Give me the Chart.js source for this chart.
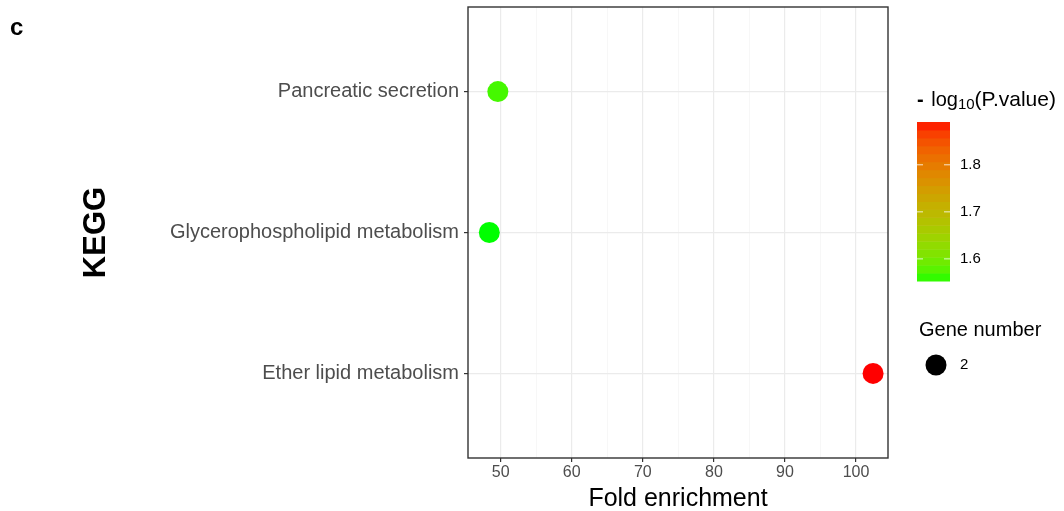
<!DOCTYPE html>
<html>
<head>
<meta charset="utf-8">
<script src="https://cdn.jsdelivr.net/npm/chart.js@4.4.1/dist/chart.umd.min.js"></script>
<style>
  html, body { margin:0; padding:0; background:#fff; }
</style>
</head>
<body>
<canvas id="dotChart" width="1064" height="511"></canvas>
<script>
// ---- data (bottom to top) ----
const categories = ["Ether lipid metabolism", "Glycerophospholipid metabolism", "Pancreatic secretion"];
const foldEnrichment = [102.4, 48.4, 49.6];
const logP = [1.891, 1.553, 1.568];
const geneNumber = [2, 2, 2];
const xTicks = [50, 55, 60, 65, 70, 75, 80, 85, 90, 95, 100];
const colorTicks = [1.6, 1.7, 1.8];

const FONT = '"Liberation Sans", Arial, sans-serif';

// green -> red in Lab space, like ggplot's scale_colour_gradient
function toLab(hex){
  const c = [1,3,5].map(i => parseInt(hex.substr(i,2),16)/255)
    .map(v => v <= 0.04045 ? v/12.92 : Math.pow((v+0.055)/1.055, 2.4));
  const X = (c[0]*0.4124 + c[1]*0.3576 + c[2]*0.1805)/0.95047;
  const Y = (c[0]*0.2126 + c[1]*0.7152 + c[2]*0.0722);
  const Z = (c[0]*0.0193 + c[1]*0.1192 + c[2]*0.9505)/1.08883;
  const f = t => t > 0.008856 ? Math.cbrt(t) : 7.787*t + 16/116;
  return [116*f(Y)-16, 500*(f(X)-f(Y)), 200*(f(Y)-f(Z))];
}
function fromLab([L,a,b]){
  const fy = (L+16)/116, fx = fy + a/500, fz = fy - b/200;
  const g = t => t*t*t > 0.008856 ? t*t*t : (t - 16/116)/7.787;
  const X = g(fx)*0.95047, Y = g(fy), Z = g(fz)*1.08883;
  let rgb = [
    X*3.2406 + Y*-1.5372 + Z*-0.4986,
    X*-0.9689 + Y*1.8758 + Z*0.0415,
    X*0.0557 + Y*-0.2040 + Z*1.0570
  ].map(v => v <= 0.0031308 ? 12.92*v : 1.055*Math.pow(v, 1/2.4) - 0.055)
   .map(v => Math.round(Math.min(1, Math.max(0, v))*255));
  return `rgb(${rgb[0]},${rgb[1]},${rgb[2]})`;
}
const labLow = toLab('#00ff00'), labHigh = toLab('#ff0000');
const pMin = Math.min(...logP), pMax = Math.max(...logP);
function colorFor(v){
  const t = (v - pMin)/(pMax - pMin);
  return fromLab(labLow.map((l,i) => l + (labHigh[i]-l)*t));
}

// colour bar + size legend + panel border
const legendPlugin = {
  id: 'legendPlugin',
  afterDraw(chart){
    const {ctx, chartArea:a} = chart;
    ctx.save();
    ctx.strokeStyle = '#333';
    ctx.lineWidth = 1.4;
    ctx.strokeRect(a.left, a.top, a.right - a.left, a.bottom - a.top);

    ctx.fillStyle = '#000';
    ctx.textBaseline = 'alphabetic';
    ctx.font = 'bold 24px ' + FONT;
    ctx.fillText('c', 10, 35);

    // legend title: - log10(P.value)
    let x = 917, y = 106;
    ctx.font = 'bold 20px ' + FONT;
    ctx.fillText('-', x, y); x += ctx.measureText('- ').width + 2;
    ctx.font = '20px ' + FONT;
    ctx.fillText('log', x, y); x += ctx.measureText('log').width;
    ctx.font = '15px ' + FONT;
    ctx.fillText('10', x, y + 3); x += ctx.measureText('10').width;
    ctx.font = '21px ' + FONT;
    ctx.fillText('(P.value)', x, y);

    // bar
    const bx = 917, bw = 33, top = 122, bottom = 281, nbin = 20;
    const h = (bottom - top)/nbin;
    for (let i = 0; i < nbin; i++){
      const v = pMin + (pMax - pMin)*(i + 0.5)/nbin;
      ctx.fillStyle = colorFor(v);
      ctx.fillRect(bx, bottom - (i+1)*h, bw, h + 0.5);
    }
    ctx.font = '15px ' + FONT;
    ctx.textBaseline = 'middle';
    colorTicks.forEach(t => {
      const ty = bottom - (t - pMin)/(pMax - pMin)*(bottom - top);
      ctx.strokeStyle = 'rgba(255,255,255,0.8)';
      ctx.lineWidth = 1;
      ctx.beginPath();
      ctx.moveTo(bx, ty); ctx.lineTo(bx + 6, ty);
      ctx.moveTo(bx + bw - 6, ty); ctx.lineTo(bx + bw, ty);
      ctx.stroke();
      ctx.fillStyle = '#000';
      ctx.fillText(t.toFixed(1), 960, ty);
    });

    // size legend
    ctx.font = '20px ' + FONT;
    ctx.fillText('Gene number', 919, 330);
    ctx.beginPath();
    ctx.arc(936, 365, 10.5, 0, Math.PI*2);
    ctx.fill();
    ctx.font = '15px ' + FONT;
    ctx.fillText(String(geneNumber[0]), 960, 365);
    ctx.restore();
  }
};

new Chart(document.getElementById('dotChart'), {
  type: 'scatter',
  data: {
    datasets: [{
      data: categories.map((c, i) => ({x: foldEnrichment[i], y: i + 1})),
      pointBackgroundColor: logP.map(colorFor),
      pointBorderWidth: 0,
      pointRadius: geneNumber.map(n => n*5.25),
      pointHoverRadius: geneNumber.map(n => n*5.25)
    }]
  },
  options: {
    responsive: false,
    animation: false,
    events: [],
    layout: { autoPadding: false, padding: { left: 78, right: 176, top: 7, bottom: 0 } },
    plugins: { legend: { display: false }, tooltip: { enabled: false } },
    scales: {
      x: {
        type: 'linear',
        min: 45.4,
        max: 104.5,
        afterBuildTicks: s => { s.ticks = xTicks.map(v => ({value: v})); },
        afterFit: s => { s.height = 53; s.paddingLeft = 0; s.paddingRight = 0; },
        border: { display: false },
        grid: {
          color: c => c.tick && c.tick.value % 10 === 0 ? '#ebebeb' : '#f3f3f3',
          lineWidth: c => c.tick && c.tick.value % 10 === 0 ? 1.2 : 0.7,
          tickColor: c => c.tick && c.tick.value % 10 === 0 ? '#333' : 'rgba(0,0,0,0)',
          tickLength: 4,
          tickWidth: 1.2
        },
        ticks: {
          autoSkip: false,
          maxRotation: 0,
          padding: 1,
          color: '#4d4d4d',
          font: { family: FONT, size: 16 },
          callback: v => v % 10 === 0 ? String(v) : ''
        },
        title: {
          display: true,
          text: 'Fold enrichment',
          color: '#000',
          font: { family: FONT, size: 25 },
          padding: { top: 0, bottom: -3 }
        }
      },
      y: {
        type: 'linear',
        min: 0.4,
        max: 3.6,
        afterBuildTicks: s => { s.ticks = categories.map((c, i) => ({value: i + 1})); },
        afterFit: s => { s.width = 468 - 78; s.paddingTop = 0; s.paddingBottom = 0; },
        border: { display: false },
        grid: {
          color: '#ebebeb',
          lineWidth: 1.2,
          tickColor: '#333',
          tickLength: 4,
          tickWidth: 1.2
        },
        ticks: {
          autoSkip: false,
          padding: 5,
          color: '#4d4d4d',
          font: { family: FONT, size: 20 },
          callback: v => categories[v - 1] || ''
        },
        title: {
          display: true,
          text: 'KEGG',
          color: '#000',
          font: { family: FONT, size: 31, weight: 'bold' },
          padding: 0
        }
      }
    }
  },
  plugins: [legendPlugin]
});
</script>
</body>
</html>
